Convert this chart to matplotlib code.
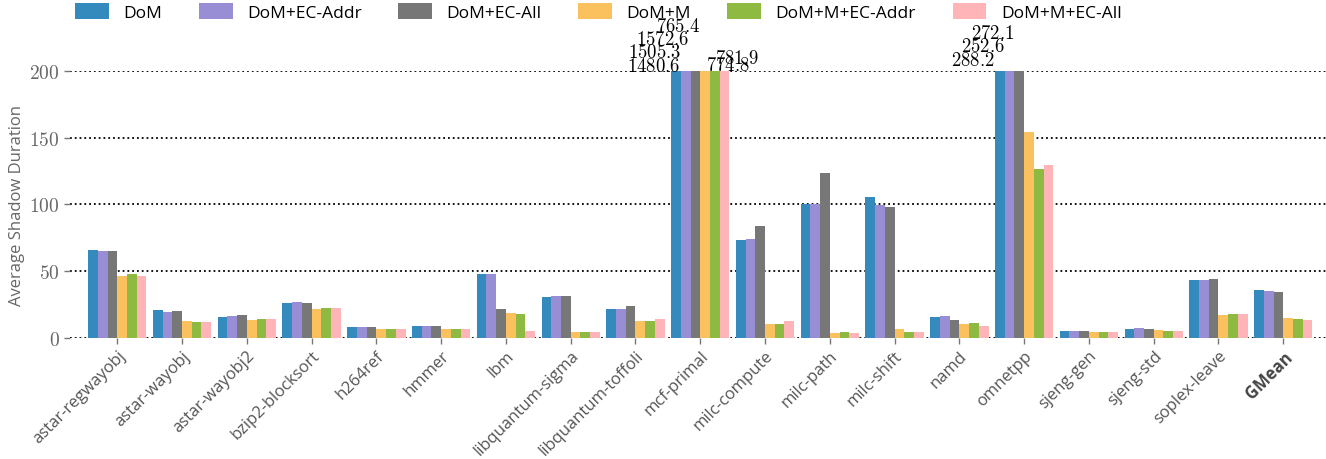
import matplotlib
matplotlib.use("Agg")
import matplotlib.pyplot as plt
import numpy as np

plt.rcParams['font.family'] = ['Open Sans', 'DejaVu Sans']
plt.rcParams['mathtext.fontset'] = 'cm'

benchmarks = ['astar-regwayobj', 'astar-wayobj', 'astar-wayobj2', 'bzip2-blocksort',
              'h264ref', 'hmmer', 'lbm', 'libquantum-sigma', 'libquantum-toffoli',
              'mcf-primal', 'milc-compute', 'milc-path', 'milc-shift', 'namd',
              'omnetpp', 'sjeng-gen', 'sjeng-std', 'soplex-leave', 'GMean']

configs = ['DoM', 'DoM+EC-Addr', 'DoM+EC-All', 'DoM+M', 'DoM+M+EC-Addr', 'DoM+M+EC-All']

dom          = [65.8, 21.0, 15.8, 26.0, 8.2, 9.0, 48.0, 30.8, 21.8, 1480.6, 73.3, 100.3, 105.5, 15.5, 288.2, 5.0, 6.5, 43.3, 35.8]
dom_ec_addr  = [65.3, 19.3, 16.5, 26.8, 8.2, 9.0, 48.0, 31.5, 21.8, 1505.3, 74.0, 100.3, 99.5, 16.3, 252.6, 5.0, 7.3, 43.3, 35.0]
dom_ec_all   = [65.0, 20.0, 17.3, 26.0, 8.2, 9.0, 21.8, 31.5, 24.0, 1572.6, 83.8, 123.5, 98.0, 13.3, 272.1, 5.0, 6.5, 44.0, 34.3]
dom_m        = [46.3, 12.5, 13.3, 21.5, 6.8, 6.8, 18.8, 4.5, 12.8, 765.4, 10.3, 3.5, 6.5, 10.3, 154.3, 4.3, 5.8, 17.0, 14.8]
dom_m_ec_addr = [47.8, 11.8, 14.3, 22.3, 6.8, 6.8, 18.0, 4.5, 12.8, 774.8, 10.3, 4.3, 4.3, 11.0, 126.5, 4.3, 5.0, 17.8, 14.0]
dom_m_ec_all = [46.3, 11.8, 14.3, 22.3, 6.8, 6.8, 5.3, 4.5, 14.3, 781.9, 12.5, 3.5, 4.3, 8.8, 129.5, 4.3, 5.0, 17.8, 13.3]

series = [dom, dom_ec_addr, dom_ec_all, dom_m, dom_m_ec_addr, dom_m_ec_all]
colors = ['#348ABD', '#988ED5', '#777777', '#FBC15E', '#8EBA42', '#FFB5B8']

ymax = 200
# where the labels of clipped bars go: (ha, dx px, dy px above the top)
label_pos = {
    ('mcf-primal', 0): ('right', 9, 5),
    ('mcf-primal', 1): ('right', 0, 19),
    ('mcf-primal', 2): ('right', -1, 32),
    ('mcf-primal', 3): ('right', 0, 45),
    ('mcf-primal', 4): ('left', -4, 6),
    ('mcf-primal', 5): ('left', -5, 13),
    ('omnetpp', 0): ('right', 0, 11),
    ('omnetpp', 1): ('right', 0, 25),
    ('omnetpp', 2): ('right', 0, 38),
}

fig = plt.figure(figsize=(13.26, 4.6), dpi=100)
ax = fig.add_axes([0.053, 0.2637, 0.947, 0.5798])

x = np.arange(len(benchmarks))
width = 0.15
bars = []
for i, (vals, c, name) in enumerate(zip(series, colors, configs)):
    b = ax.bar(x + (i - 2.5) * width, vals, width, color=c, label=name, zorder=3)
    bars.append(b)

ax.set_ylim(0, ymax)
ax.set_xlim(-0.725, len(benchmarks) - 1 + 0.66)
ax.set_yticks([0, 50, 100, 150, 200])
ax.set_yticklabels(['$%d$' % t for t in [0, 50, 100, 150, 200]])
ax.tick_params(axis='y', labelsize=14, labelcolor='#666666', color='#777777', length=4, width=1)
ax.tick_params(axis='x', labelsize=12, labelcolor='#555555', color='#777777', length=4, width=1, pad=3)
ax.set_xticks(x)
ax.set_xticklabels(benchmarks, rotation=45, ha='right', va='top', rotation_mode='anchor')
ax.get_xticklabels()[-1].set_fontweight('bold')
ax.get_xticklabels()[-1].set_color('#444444')
for s in ax.spines.values():
    s.set_visible(False)
ax.yaxis.grid(True, linestyle=':', color='black', linewidth=1.3, zorder=0)
ax.set_axisbelow(True)
ax.set_ylabel('Average Shadow Duration', fontsize=12, color='#666666', labelpad=3)

# values of bars that run off the top
px2pt = 72.0 / fig.dpi
for i, b in enumerate(bars):
    for j, rect in enumerate(b):
        h = rect.get_height()
        if h > ymax:
            ha, dx, dy = label_pos[(benchmarks[j], i)]
            ax.annotate('$%.1f$' % h, xy=(rect.get_x(), ymax),
                        xytext=(dx * px2pt, dy * px2pt), textcoords='offset points',
                        ha=ha, va='center', fontsize=13.5, annotation_clip=False)

ax.legend(ncol=6, loc='center left', bbox_to_anchor=(0.004, 1.22), frameon=False,
          fontsize=12.5, handlelength=1.95, handleheight=1.0, columnspacing=2.1,
          handletextpad=0.83, borderaxespad=0, borderpad=0)

plt.savefig('out.png', dpi=100)
